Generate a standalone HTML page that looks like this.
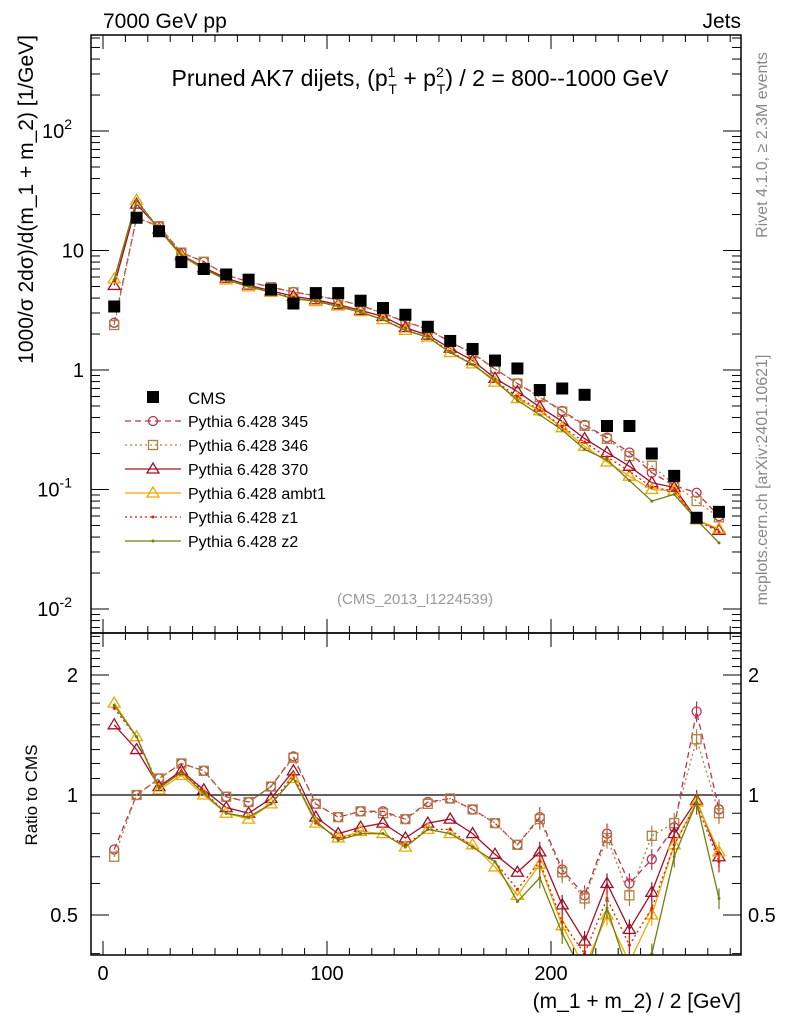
<!DOCTYPE html>
<html><head><meta charset="utf-8"><style>
html,body{margin:0;padding:0;background:#fff;}
svg{display:block;font-family:"Liberation Sans",sans-serif;}
</style></head><body>
<svg id="chart" width="786" height="1024" viewBox="0 0 786 1024"></svg>
<script>
const binCenters=[5,15,25,35,45,55,65,75,85,95,105,115,125,135,145,155,165,175,185,195,205,215,225,235,245,255,265,275];
const cmsValues=[3.4,18.8,14.5,8,7,6.3,5.7,4.7,3.6,4.4,4.4,3.8,3.3,2.9,2.3,1.75,1.5,1.2,1.03,0.68,0.7,0.62,0.34,0.34,0.2,0.13,0.058,0.065];
const ratio345=[0.73,1.0,1.1,1.2,1.15,0.99,0.96,1.05,1.25,0.95,0.88,0.91,0.91,0.87,0.96,0.98,0.92,0.85,0.75,0.88,0.65,0.56,0.8,0.6,0.69,0.83,1.62,0.92];
const ratio346=[0.7,1.0,1.1,1.2,1.15,0.99,0.96,1.05,1.24,0.95,0.88,0.91,0.9,0.87,0.95,0.98,0.92,0.85,0.75,0.87,0.64,0.55,0.78,0.56,0.79,0.85,1.38,0.9];
const ratio370=[1.5,1.3,1.05,1.15,1.03,0.93,0.9,0.98,1.15,0.88,0.8,0.83,0.85,0.78,0.85,0.87,0.8,0.71,0.64,0.72,0.53,0.43,0.6,0.46,0.57,0.8,0.97,0.7];
const ratioAmbt1=[1.7,1.4,1.03,1.12,1.0,0.9,0.87,0.95,1.1,0.85,0.78,0.81,0.8,0.74,0.82,0.8,0.75,0.66,0.56,0.67,0.47,0.37,0.5,0.38,0.5,0.75,0.96,0.72];
const ratioZ1=[1.65,1.4,1.05,1.15,1.02,0.9,0.88,0.95,1.12,0.85,0.78,0.8,0.8,0.75,0.82,0.82,0.74,0.68,0.58,0.68,0.48,0.4,0.55,0.42,0.52,0.75,0.95,0.68];
const ratioZ2=[1.68,1.4,1.04,1.14,1.01,0.9,0.88,0.95,1.1,0.86,0.77,0.8,0.8,0.74,0.82,0.8,0.74,0.68,0.54,0.62,0.45,0.35,0.52,0.35,0.4,0.7,0.96,0.55];
const xTicks=[0,100,200];
const yMainTicks=[0.01,0.1,1,10,100];
const yRatioTicks=[0.5,1,2];

const NS="http://www.w3.org/2000/svg";
const svg=document.getElementById('chart');
const L=91,R=741,T1=35,B1=633,T2=633,B2=955;
const xs=v=>103+2.24*v;
const ym=v=>370-119.5*Math.log10(v);
const yr=v=>795-398.6*Math.log10(v);
function mk(tag,attrs,parent){const e=document.createElementNS(NS,tag);for(const k in attrs)e.setAttribute(k,attrs[k]);(parent||svg).appendChild(e);return e;}
function txt(s,attrs,parent){const e=mk('text',attrs,parent);e.textContent=s;return e;}

const defs=mk('defs',{});
const c1=mk('clipPath',{id:'c1'},defs);mk('rect',{x:L,y:T1,width:R-L,height:B1-T1},c1);
const c2=mk('clipPath',{id:'c2'},defs);mk('rect',{x:L,y:T2,width:R-L,height:B2-T2},c2);

const series=[
 {name:'Pythia 6.428 345',r:ratio345,color:'#c03050',dash:'6,4',mark:'circle',key:'345'},
 {name:'Pythia 6.428 346',r:ratio346,color:'#b08040',dash:'2,3',mark:'square',key:'346'},
 {name:'Pythia 6.428 370',r:ratio370,color:'#a01028',dash:'',mark:'tri',key:'370'},
 {name:'Pythia 6.428 ambt1',r:ratioAmbt1,color:'#f0a800',dash:'',mark:'tri',key:'ambt1'},
 {name:'Pythia 6.428 z1',r:ratioZ1,color:'#e02000',dash:'2,3',mark:'dot',key:'z1'},
 {name:'Pythia 6.428 z2',r:ratioZ2,color:'#708010',dash:'',mark:'dot',key:'z2'}
];

function marker(g,type,x,y,color){
 if(type==='circle')mk('circle',{cx:x,cy:y,r:4.5,fill:'none',stroke:color,'stroke-width':1.3},g);
 else if(type==='square')mk('rect',{x:x-4.5,y:y-4.5,width:9,height:9,fill:'none',stroke:color,'stroke-width':1.3},g);
 else if(type==='tri')mk('polygon',{points:`${x},${y-6} ${x-6},${y+4} ${x+6},${y+4}`,fill:'none',stroke:color,'stroke-width':1.3},g);
 else mk('circle',{cx:x,cy:y,r:1.5,fill:color},g);
}

const gm=mk('g',{'clip-path':'url(#c1)'});


series.forEach(s=>{
 const g=mk('g',{},gm);
 
 
 const pts=binCenters.map((c,i)=>[xs(c),ym(s.r[i]*cmsValues[i])]);
 mk('polyline',{points:pts.map(p=>p.join(',')).join(' '),fill:'none',stroke:s.color,'stroke-width':1.3,'stroke-dasharray':s.dash},g);
 pts.forEach(p=>marker(g,s.mark,p[0],p[1],s.color));
});
const gc=mk('g',{},gm);


binCenters.forEach((c,i)=>{
 const r=mk('rect',{x:xs(c)-6,y:ym(cmsValues[i])-6,width:12,height:12,fill:'#000'},gc);
 
 
});

const gr=mk('g',{'clip-path':'url(#c2)'});


mk('line',{x1:L,x2:R,y1:yr(1),y2:yr(1),stroke:'#000','stroke-width':1.2},gr);
series.forEach(s=>{
 const g=mk('g',{},gr);
 
 
 const pts=binCenters.map((c,i)=>[xs(c),yr(s.r[i])]);
 mk('polyline',{points:pts.map(p=>p.join(',')).join(' '),fill:'none',stroke:s.color,'stroke-width':1.3,'stroke-dasharray':s.dash},g);
 pts.forEach((p,i)=>{
  if(binCenters[i]>190){const e=s.r[i]*0.06;mk('line',{x1:p[0],x2:p[0],y1:yr(s.r[i]+e),y2:yr(s.r[i]-e),stroke:s.color,'stroke-width':1.2},g);}
  marker(g,s.mark,p[0],p[1],s.color);
 });
});

mk('rect',{x:L,y:T1,width:R-L,height:B1-T1,fill:'none',stroke:'#000','stroke-width':1.5});
mk('rect',{x:L,y:T2,width:R-L,height:B2-T2,fill:'none',stroke:'#000','stroke-width':1.5});

for(let v=0;v<=280;v+=10){
 const x=xs(v),big=v%100===0,len=big?14:7;
 [[T1,1],[B1,-1],[T2,1],[B2,-1]].forEach(([y,d])=>mk('line',{x1:x,x2:x,y1:y,y2:y+d*len,stroke:'#000','stroke-width':1}));
}
xTicks.forEach(v=>{const t=txt(String(v),{x:xs(v),y:980,'font-size':20,'text-anchor':'middle'});});

for(let e=-3;e<=2;e++){for(let m=1;m<10;m++){const v=m*Math.pow(10,e);const y=ym(v);if(y<T1||y>B1)continue;const len=m===1?18:9;
 mk('line',{x1:L,x2:L+len,y1:y,y2:y,stroke:'#000'});mk('line',{x1:R,x2:R-len,y1:y,y2:y,stroke:'#000'});}}
const mainLabels={0.01:['10','-2'],0.1:['10','-1'],1:['1',''],10:['10',''],100:['10','2']};
yMainTicks.forEach(v=>{const l=mainLabels[v];const t=txt('',{x:l[1]?72:84,y:ym(v)+7,'font-size':20,'text-anchor':'end'});
 
 const a=mk('tspan',{},t);a.textContent=l[0];if(l[1]){const b=mk('tspan',{dy:-9,'font-size':14},t);b.textContent=l[1];}
});
[0.4,0.5,0.6,0.7,0.8,0.9,1,1.1,1.2,1.3,1.4,1.5,1.6,1.7,1.8,1.9,2,2.1,2.2,2.3,2.4,2.5].forEach(v=>{const y=yr(v);if(y<T2||y>B2)return;const big=[0.5,1,2].includes(v);const len=big?18:9;
 mk('line',{x1:L,x2:L+len,y1:y,y2:y,stroke:'#000'});mk('line',{x1:R,x2:R-len,y1:y,y2:y,stroke:'#000'});});
yRatioTicks.forEach(v=>{
 const a=txt(String(v),{x:78,y:yr(v)+7,'font-size':20,'text-anchor':'end'});
 const b=txt(String(v),{x:748,y:yr(v)+7,'font-size':20});
});

let t;
t=txt('7000 GeV pp',{x:103,y:28,'font-size':21});
t=txt('Jets',{x:741,y:28,'font-size':21,'text-anchor':'end'});
t=txt('',{x:420,y:86,'font-size':23,'text-anchor':'middle'});
t.innerHTML='Pruned AK7 dijets, (p<tspan dy="-9" font-size="14">1</tspan><tspan dy="17" dx="-7" font-size="14">T</tspan><tspan dy="-8"> + p</tspan><tspan dy="-9" font-size="14">2</tspan><tspan dy="17" dx="-7" font-size="14">T</tspan><tspan dy="-8">) / 2 = 800--1000 GeV</tspan>';
t=txt('1000/σ   2dσ)/d(m_1 + m_2) [1/GeV]',{x:0,y:0,'font-size':21,'text-anchor':'end',transform:'translate(33,35) rotate(-90)'});
t=txt('Ratio to CMS',{x:0,y:0,'font-size':17,'text-anchor':'middle',transform:'translate(37,795) rotate(-90)'});
t=txt('(m_1 + m_2) / 2 [GeV]',{x:741,y:1008,'font-size':21,'text-anchor':'end'});
t=txt('(CMS_2013_I1224539)',{x:415,y:604,'font-size':15,'text-anchor':'middle',fill:'#999'});
t=txt('Rivet 4.1.0, ≥ 2.3M events',{x:0,y:0,'font-size':16,'text-anchor':'middle',fill:'#888',transform:'translate(767,145) rotate(-90)'});
t=txt('mcplots.cern.ch [arXiv:2401.10621]',{x:0,y:0,'font-size':16,'text-anchor':'middle',fill:'#888',transform:'translate(767,480) rotate(-90)'});

const lg=mk('g',{});


let e=mk('g',{},lg);


mk('rect',{x:147,y:391,width:12,height:12,fill:'#000'},e);
txt('CMS',{x:188,y:404,'font-size':17},e);
series.forEach((s,i)=>{
 const y=421+24*i;
 const g=mk('g',{},lg);
 
 
 mk('line',{x1:125,x2:181,y1:y,y2:y,stroke:s.color,'stroke-width':1.3,'stroke-dasharray':s.dash},g);
 marker(g,s.mark,153,y,s.color);
 txt(s.name,{x:188,y:y+6,'font-size':16},g);
});
</script>
</body></html>
